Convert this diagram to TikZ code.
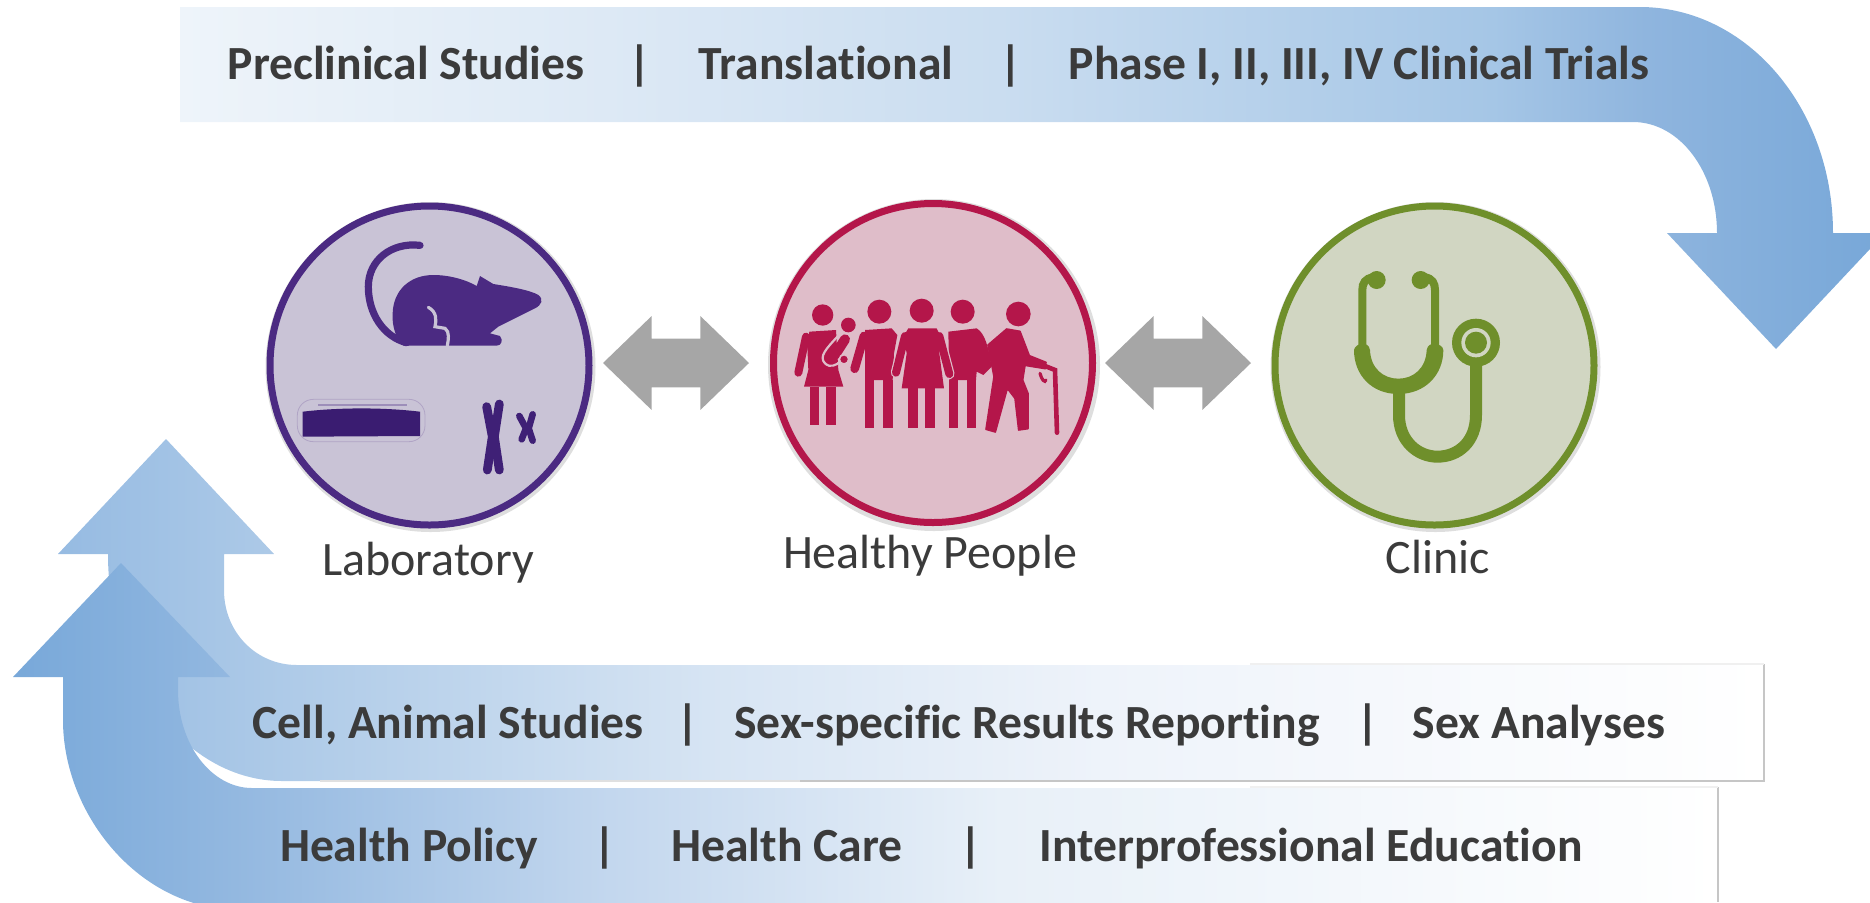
\documentclass[tikz,border=0pt]{standalone}
\usepackage{fontspec}
\setmainfont[Ligatures=CommonOff]{Carlito}
\usetikzlibrary{shapes.arrows,calc}
\definecolor{txt}{HTML}{3B3B3B}
\definecolor{labP}{HTML}{4B2A82}
\definecolor{labD}{HTML}{3A1C71}
\definecolor{labF}{HTML}{C9C3D6}
\definecolor{hpP}{HTML}{B4164A}
\definecolor{hpF}{HTML}{DFBDC9}
\definecolor{clP}{HTML}{6F8F2B}
\definecolor{clF}{HTML}{D1D6C2}
\definecolor{edgeg}{HTML}{C6C6C6}
\definecolor{ta}{HTML}{EEF4FA}\definecolor{tb}{HTML}{DDE9F5}\definecolor{tc}{HTML}{CADDF0}
\definecolor{td}{HTML}{A5C6E6}\definecolor{te}{HTML}{8FB5DE}\definecolor{tf}{HTML}{77A7D8}
\definecolor{ca}{HTML}{96BBE2}\definecolor{cb}{HTML}{AFCBE8}\definecolor{cc}{HTML}{D6E4F3}
\definecolor{cd}{HTML}{EEF3FA}\definecolor{ce}{HTML}{FFFFFF}
\definecolor{ha}{HTML}{78A8D9}\definecolor{hb}{HTML}{93B8E0}\definecolor{hc}{HTML}{C3D7EE}
\definecolor{hd}{HTML}{E8F0F8}\definecolor{he}{HTML}{FFFFFF}
\pgfdeclarehorizontalshading{topgrad}{100bp}{color(0bp)=(ta);color(25bp)=(ta);color(37.5bp)=(tb);color(49bp)=(tc);color(63.5bp)=(td);color(68bp)=(te);color(75bp)=(tf);color(100bp)=(tf)}
\pgfdeclarehorizontalshading{cellgrad}{100bp}{color(0bp)=(ca);color(25bp)=(ca);color(32bp)=(cb);color(44bp)=(cc);color(55.5bp)=(cd);color(75bp)=(ce);color(100bp)=(ce)}
\pgfdeclarehorizontalshading{healthgrad}{100bp}{color(0bp)=(ha);color(25bp)=(ha);color(31.5bp)=(hb);color(42.5bp)=(hc);color(54bp)=(hd);color(75bp)=(he);color(100bp)=(he)}
\tikzset{
  bar/.style={font=\fontsize{23.8}{28}\selectfont\bfseries,text=txt,inner sep=0pt,anchor=base},
  place/.style={font=\fontsize{24}{28}\selectfont,text=txt,inner sep=0pt,anchor=base},
  disc/.style={circle,minimum size=159.5pt,line width=3.5pt,inner sep=0pt},
  twoway/.style={double arrow,fill=black!35,minimum height=73pt,double arrow head extend=11.25pt,inner sep=12pt,double arrow tip angle=88},
  halo/.style={fill=black,opacity=.13},
}
\begin{document}
\begin{tikzpicture}[x=.5pt,y=-.5pt]
\useasboundingbox (0,0) rectangle (1870,902);
\clip (0,0) rectangle (1870,902);
% top arrow
\shade[shading=topgrad] (180,7) -- (1640,7) .. controls (1747,7) and (1833,108) .. (1833,233)
  -- (1885,233) -- (1776,349) -- (1667,233) -- (1717,233)
  .. controls (1717,172) and (1680,122) .. (1633,122) -- (180,122) -- cycle;
% cell arrow
\shade[shading=cellgrad] (166,439) -- (274,554) -- (224,554) -- (224,590)
  .. controls (224,632) and (256,665) .. (297,665) -- (1764,665) -- (1764,781)
  -- (282,781) .. controls (187,781) and (108,680) .. (108,554) -- (58,554) -- cycle;
\draw[edgeg,line width=.7pt] (1764,664) -- (1764,781) -- (800,781);
\draw[edgeg!55,line width=.7pt] (800,781) -- (320,781);
\draw[black!6,line width=.7pt] (1250,664) -- (1764,664);
% health arrow
\shade[shading=healthgrad] (121,563) -- (230,677) -- (178,677) -- (178,690)
  .. controls (178,745) and (212,788) .. (252,788) -- (1718,788) -- (1718,910)
  -- (240,910) .. controls (140,910) and (63,815) .. (63,720) -- (63,677) -- (13,677) -- cycle;
\draw[edgeg,line width=.7pt] (1718,787) -- (1718,902);
\draw[black!6,line width=.7pt] (1250,787) -- (1718,787);
% bar texts
\node[bar] (t1) at (406,79) {Preclinical Studies};
\node[bar] (t2) at (640,79) {|};
\node[bar] (t3) at (826,79) {Translational};
\node[bar] (t4) at (1011,79) {|};
\node[bar] (t5) at (1359,79) {Phase I, II, III, IV Clinical Trials};
\node[bar] (c1) at (448,738) {Cell, Animal Studies};
\node[bar] (c2) at (688,738) {|};
\node[bar] (c3) at (1027,738) {Sex-specific Results Reporting};
\node[bar] (c4) at (1368,738) {|};
\node[bar] (c5) at (1539,738) {Sex Analyses};
\node[bar] (h1) at (409,861) {Health Policy};
\node[bar] (h2) at (605,861) {|};
\node[bar] (h3) at (787,861) {Health Care};
\node[bar] (h4) at (971,861) {|};
\node[bar] (h5) at (1311,861) {Interprofessional Education};
% discs
\fill[halo] (430.5,367) circle (165);
\fill[halo] (934,365) circle (166);
\fill[halo] (1435.5,367) circle (165);
\node[disc,draw=labP,fill=labF] (lab) at (429.5,365.5) {};
\node[disc,draw=hpP,fill=hpF] (hp) at (933,363) {};
\node[disc,draw=clP,fill=clF] (cl) at (1434.5,365.5) {};
\node[place] (labt) at (428,575) {Laboratory};
\node[place] (hpt) at (930,568) {Healthy People};
\node[place] (clt) at (1438,573) {Clinic};
\node[twoway] (a1) at (676,363) {};
\node[twoway] (a2) at (1178,363) {};
% laboratory icons
\begin{scope}[shift={(240,180)},scale=1/3]
\draw[labP,line width=3.6pt,line cap=round] (540,196) .. controls (455,186) and (385,240) .. (385,320) .. controls (385,400) and (430,470) .. (500,488);
\fill[labP] (458,400) .. controls (460,330) and (510,285) .. (580,285) .. controls (630,285) and (680,300) .. (710,318)
 -- (720,288) -- (760,312) .. controls (810,320) and (870,330) .. (895,345) .. controls (912,358) and (905,375) .. (885,385)
 -- (775,440) -- (750,460) -- (780,468) .. controls (790,480) and (785,497) .. (770,497) -- (490,497)
 .. controls (470,480) and (455,440) .. (458,400) -- cycle;
\draw[labF,line width=1.6pt,line cap=round] (565,382) .. controls (590,395) and (590,420) .. (585,440) -- (615,445) .. controls (630,455) and (625,480) .. (622,497);
\fill[labD] (188,695) .. controls (300,682) and (430,682) .. (540,695) -- (540,768) -- (188,770) -- cycle;
\draw[labP!20!labF,line width=.4pt,rounded corners=8pt] (172,658) rectangle (555,785);
\draw[labP!35!labF,line width=1pt] (235,675) -- (500,675);
\begin{scope}[labD!70!labP,line width=4.4pt,line cap=round,line join=round]
\draw (740,680) -- (757,770) -- (742,870);
\draw (778,672) -- (763,770) -- (778,870);
\end{scope}
\begin{scope}[labD!70!labP,line width=3.3pt,line cap=round,line join=round]
\draw (838,708) -- (858,745) -- (845,778);
\draw (878,703) -- (866,745) -- (878,782);
\end{scope}
\end{scope}
% people icon
\begin{scope}[shift={(750,180)},scale=1/3]
\begin{scope}[hpP]
\fill (218,405) circle (32);
\fill (295,435) circle (22);
\fill (178,455) -- (258,450) -- (265,570) -- (280,620) -- (162,620) -- (175,570) -- (172,500) -- cycle;
\draw[line width=4pt,line cap=round] (168,470) -- (145,578);
\fill (180,620) rectangle (208,735);
\fill (228,620) rectangle (258,735);
\draw[line width=5pt,line cap=round] (285,478) -- (255,525);
\draw[hpF,line width=1.1pt,line cap=round] (262,470) .. controls (230,505) and (205,530) .. (225,550) .. controls (240,565) and (260,555) .. (270,545);
\fill (282,538) circle (13);
\draw[hpF,line width=.8pt] (282,538) circle (14);
% man 3
\fill (638,395) circle (36);
\fill (595,455) -- (680,445) .. controls (705,460) and (715,500) .. (725,560) -- (700,585) -- (680,575) -- (678,600) -- (598,600) -- cycle;
\fill (598,600) rectangle (625,745);
\fill (650,600) rectangle (678,745);
% man 2
\fill (388,395) circle (36);
\fill (345,450) -- (425,445) -- (442,465) -- (432,520) -- (428,600) -- (345,600) -- (345,520) -- cycle;
\draw[line width=4.4pt,line cap=round] (342,468) -- (314,566);
\fill (345,600) rectangle (372,745);
\fill (400,600) rectangle (428,745);
% woman 2
\fill (515,392) circle (36);
\draw[hpF,line width=5.2pt,line cap=round] (465,468) -- (438,578);
\draw[hpF,line width=5.2pt,line cap=round] (568,468) -- (598,582);
\draw[line width=4pt,line cap=round] (465,468) -- (438,578);
\draw[line width=4pt,line cap=round] (568,468) -- (598,582);
\fill (475,445) -- (560,445) -- (572,470) -- (568,520) -- (582,625) -- (455,625) -- (470,520) -- (460,470) -- cycle;
\fill (475,625) rectangle (505,745);
\fill (525,625) rectangle (555,745);
% old man
\fill (805,402) circle (37);
\filldraw[line width=.8pt,line join=round] (714,495) -- (770,447) -- (810,454) -- (838,527) -- (888,547) -- (886,566) -- (825,556)
 -- (818,600) -- (834,640) -- (834,746) -- (806,750) -- (795,655) -- (772,625) -- (736,756) -- (708,748) -- (732,590) -- cycle;
\draw[line width=2.3pt,line cap=round] (880,556) -- (915,570) -- (921,758);
\draw[line width=1.6pt,line cap=round] (870,580) .. controls (875,600) and (885,610) .. (888,600);
\end{scope}
\end{scope}
% stethoscope icon
\begin{scope}[shift={(1250,180)},scale=1/3]
\begin{scope}[clP]
\fill (380,300) circle (27);
\fill (512,300) circle (27);
\draw[line width=4pt] (370,292) .. controls (345,295) and (337,310) .. (337,330) -- (337,510);
\draw[line width=4pt] (525,292) .. controls (547,295) and (555,310) .. (555,330) -- (555,510);
\fill (312,510) .. controls (315,490) and (355,480) .. (360,510) .. controls (362,565) and (400,596) .. (445,596)
  .. controls (490,596) and (528,565) .. (530,510) .. controls (535,480) and (578,490) .. (580,510)
  .. controls (580,585) and (525,642) .. (445,642) .. controls (365,642) and (312,585) .. (312,510) -- cycle;
\draw[line width=6pt] (447,630) -- (447,705) .. controls (447,785) and (505,830) .. (562,830) .. controls (625,830) and (678,785) .. (678,705) -- (678,545);
\fill (678,488) circle (72);
\fill[clF] (678,488) circle (44);
\fill (678,488) circle (33);
\end{scope}
\end{scope}
\end{tikzpicture}
\end{document}
